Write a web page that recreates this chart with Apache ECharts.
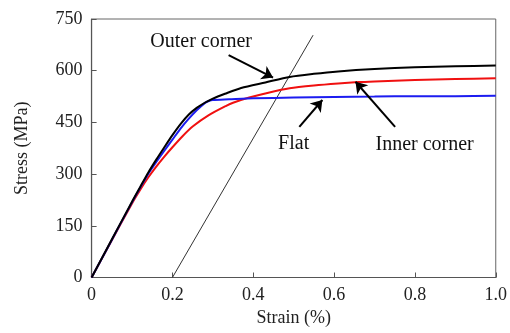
<!DOCTYPE html>
<html>
<head>
<meta charset="utf-8">
<script src="https://cdn.jsdelivr.net/npm/echarts@6/dist/echarts.min.js"></script>
<style>
  html, body { margin: 0; padding: 0; background: #fff; }
  #chart { width: 510px; height: 333px; }
</style>
</head>
<body>
<div id="chart"></div>
<script>
// stress-strain curves (strain in %, stress in MPa)
const outerStrain = [0, 0.05, 0.1, 0.12, 0.14, 0.16, 0.18, 0.2, 0.22, 0.24, 0.26, 0.28, 0.3, 0.33, 0.37, 0.43, 0.49, 0.55, 0.61, 0.7, 0.8, 0.9, 1.0]
const outerStress = [0, 110, 220, 262, 304, 342, 378, 413, 445, 472, 492, 507, 519, 533, 550, 566, 582, 591, 598, 605, 610, 613, 615]

const flatStrain = [0, 0.05, 0.1, 0.14, 0.16, 0.18, 0.2, 0.22, 0.24, 0.26, 0.28, 0.29, 0.3, 0.34, 0.4, 0.5, 0.6, 0.7, 0.8, 0.9, 1.0]
const flatStress = [0, 109, 218, 300, 335, 368, 400, 432, 460, 485, 506, 512, 515, 517, 520, 522, 524, 525, 526, 526, 527]

const innerStrain = [0, 0.05, 0.1, 0.12, 0.14, 0.16, 0.18, 0.2, 0.225, 0.25, 0.29, 0.333, 0.35, 0.39, 0.44, 0.49, 0.55, 0.61, 0.66, 0.7, 0.8, 0.9, 1.0]
const innerStress = [0, 108, 215, 254, 290, 322, 351, 378, 410, 438, 471, 498, 507, 522, 537, 549, 557, 563, 567, 569, 573, 576, 578]

// 0.2% offset line
const offsetStrain = [0.2, 0.548]
const offsetStress = [0, 703]

// annotation labels and arrows (data coords)
const labelNames = ['Outer corner', 'Flat', 'Inner corner']
const labelAt = [[0.271, 683], [0.5, 387], [0.824, 385]]
const arrowFrom = [[0.339, 645], [0.514, 437], [0.751, 437]]
const arrowTo = [[0.449, 580], [0.571, 515], [0.653, 568]]

const xTicks = [0, 0.2, 0.4, 0.6, 0.8, 1.0]
const yTicks = [0, 150, 300, 450, 600, 750]

const zip = (xs, ys) => xs.map((x, i) => [x, ys[i]])

const chart = echarts.init(document.getElementById('chart'))
const font = 'Liberation Serif'

const curve = (name, xs, ys, color, z) => ({
  name,
  type: 'line',
  symbol: 'none',
  smooth: 0.25,
  data: zip(xs, ys),
  lineStyle: { color, width: 2 },
  z
})

chart.setOption({
  animation: false,
  textStyle: { fontFamily: font },
  grid: {
    left: 91.6, right: 10, top: 19, bottom: 55.5,
    show: true, borderColor: '#666', borderWidth: 1
  },
  xAxis: {
    type: 'value',
    min: xTicks[0], max: xTicks[xTicks.length - 1], interval: 0.2,
    name: 'Strain (%)',
    nameLocation: 'middle',
    nameGap: 32,
    nameTextStyle: { color: '#222', fontSize: 18, fontFamily: font },
    axisLine: { lineStyle: { color: '#555', width: 1.2 } },
    axisTick: { inside: true, length: 5, lineStyle: { color: '#555' } },
    axisLabel: {
      color: '#222', fontSize: 18, fontFamily: font, margin: 9,
      formatter: v => (v === 0 ? '0' : v.toFixed(1))
    },
    splitLine: { show: false }
  },
  yAxis: {
    type: 'value',
    min: yTicks[0], max: yTicks[yTicks.length - 1], interval: 150,
    name: 'Stress (MPa)',
    nameLocation: 'middle',
    nameGap: 60,
    nameTextStyle: { color: '#222', fontSize: 18, fontFamily: font },
    axisLine: { show: true, lineStyle: { color: '#555', width: 1.2 } },
    axisTick: { show: true, inside: true, length: 5, lineStyle: { color: '#555' } },
    axisLabel: { color: '#222', fontSize: 18, fontFamily: font, margin: 9 },
    splitLine: { show: false }
  },
  series: [
    {
      name: 'Offset',
      type: 'line',
      symbol: 'none',
      data: zip(offsetStrain, offsetStress),
      lineStyle: { color: '#333', width: 1 },
      z: 1,
      markPoint: {
        symbol: 'circle',
        symbolSize: 0,
        label: {
          show: true, position: 'inside', formatter: '{b}',
          color: '#111', fontSize: 20, fontFamily: font
        },
        data: labelNames.map((n, i) => ({ name: n, coord: labelAt[i] }))
      },
      markLine: {
        silent: true,
        symbol: ['none', 'arrow'],
        symbolSize: 11,
        label: { show: false },
        lineStyle: { color: '#000', width: 2, type: 'solid' },
        data: arrowFrom.map((p, i) => [{ coord: p }, { coord: arrowTo[i] }])
      }
    },
    curve('Inner corner', innerStrain, innerStress, '#f01010', 2),
    curve('Flat', flatStrain, flatStress, '#1c1cf0', 3),
    curve('Outer corner', outerStrain, outerStress, '#000', 4)
  ]
})
</script>
</body>
</html>
